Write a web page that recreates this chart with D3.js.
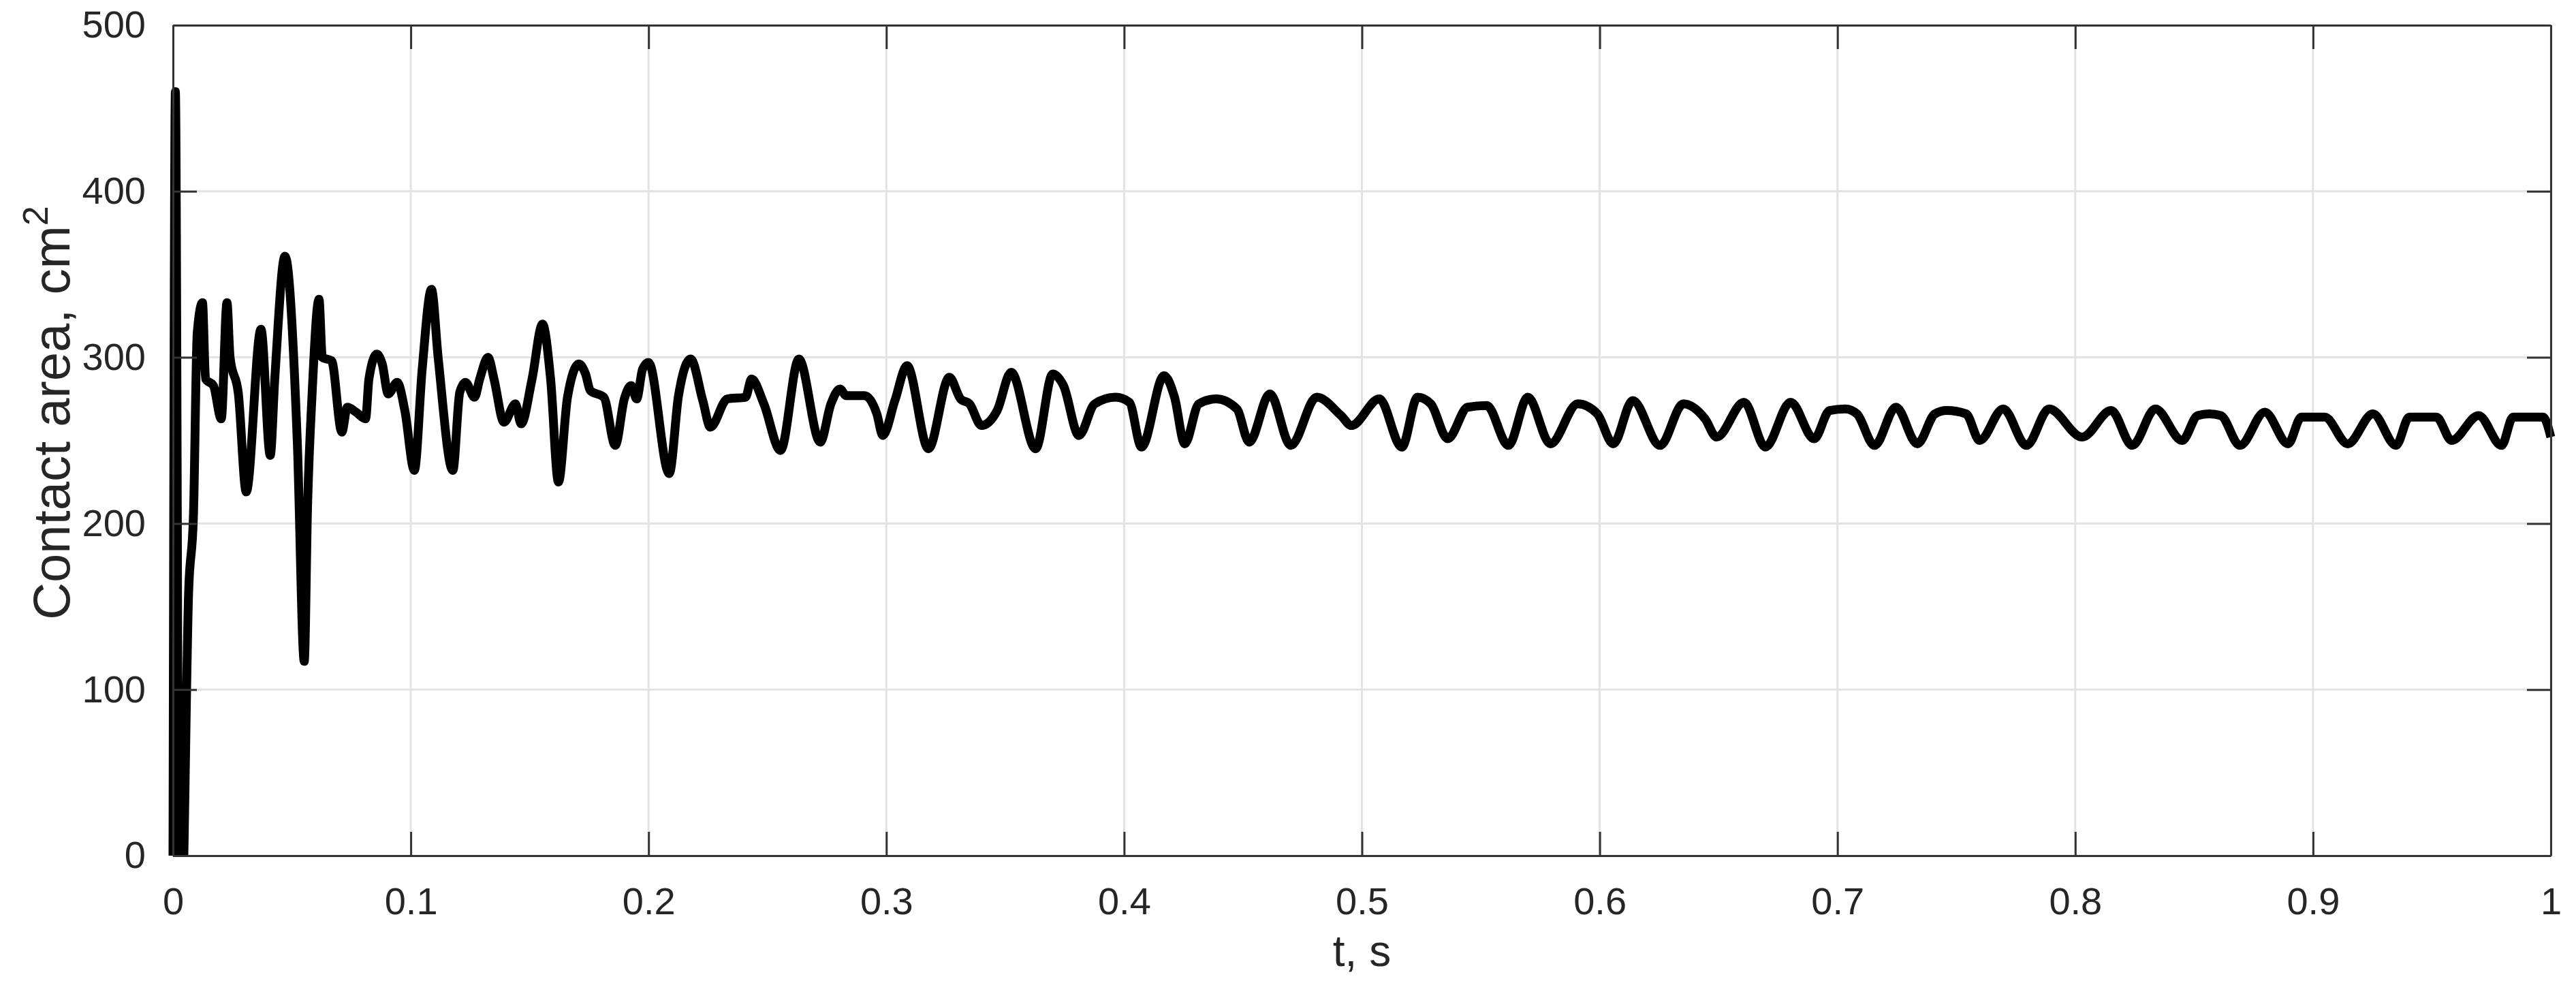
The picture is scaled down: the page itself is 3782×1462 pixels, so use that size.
<html>

<head>
    <script src="https://d3js.org/d3.v7.min.js"></script>
    <style>
        body { margin: 0; background: #fff; }
        text { font-family: "Liberation Sans", Arial, sans-serif; fill: #262626; }
    </style>
</head>

<body>
    <div id="chart">
        <svg width="3782" height="1462"></svg>
    </div>
    <script>
        // time, s
        var timeS = [
            0.0000, 0.0010, 0.0026, 0.0036, 0.0066, 0.0086, 0.0102, 0.0124, 0.0137, 0.0170,
            0.0203, 0.0227, 0.0240, 0.0275, 0.0308, 0.0370, 0.0409, 0.0428, 0.0471, 0.0523,
            0.0552, 0.0566, 0.0585, 0.0614, 0.0628, 0.0667, 0.0710, 0.0733, 0.0770, 0.0810,
            0.0824, 0.0857, 0.0880, 0.0905, 0.0943, 0.0975, 0.1015, 0.1048, 0.1087, 0.1115,
            0.1177, 0.1206, 0.1230, 0.1268, 0.1290, 0.1325, 0.1350, 0.1392, 0.1440, 0.1464,
            0.1510, 0.1554, 0.1588, 0.1621, 0.1659, 0.1707, 0.1735, 0.1755, 0.1812, 0.1860,
            0.1898, 0.1927, 0.1950, 0.1975, 0.2000, 0.2087, 0.2126, 0.2177, 0.2228, 0.2260,
            0.2331, 0.2408, 0.2433, 0.2485, 0.2555, 0.2632, 0.2722, 0.2767, 0.2805, 0.2831,
            0.2908, 0.2960, 0.2985, 0.3036, 0.3087, 0.3177, 0.3265, 0.3312, 0.3350, 0.3400,
            0.3466, 0.3525, 0.3628, 0.3700, 0.3745, 0.3810, 0.3876, 0.3964, 0.4022, 0.4073,
            0.4168, 0.4212, 0.4255, 0.4314, 0.4387, 0.4474, 0.4526, 0.4613, 0.4701, 0.4810,
            0.4912, 0.4956, 0.5073, 0.5168, 0.5234, 0.5290, 0.5361, 0.5445, 0.5525, 0.5616,
            0.5698, 0.5793, 0.5908, 0.5990, 0.6057, 0.6139, 0.6254, 0.6352, 0.6443, 0.6492,
            0.6607, 0.6697, 0.6803, 0.6902, 0.6967, 0.7033, 0.7082, 0.7156, 0.7246, 0.7336,
            0.7410, 0.7459, 0.7541, 0.7598, 0.7697, 0.7795, 0.7890, 0.8029, 0.8151, 0.8240,
            0.8337, 0.8450, 0.8515, 0.8563, 0.8612, 0.8693, 0.8797, 0.8895, 0.8951, 0.9049,
            0.9146, 0.9252, 0.9349, 0.9405, 0.9519, 0.9583, 0.9696, 0.9793, 0.9841, 0.9968,
            1.0000
        ]
        // contact area, cm^2
        var contactArea = [
            0, 460, -40, -40, 160, 205, 315, 333, 287, 283,
            263, 333, 300, 278, 219, 317, 241, 287, 361, 248,
            117, 211, 278, 335, 300, 298, 255, 270, 267, 263,
            287, 302, 296, 278, 285, 268, 232, 293, 341, 300,
            232, 279, 285, 276, 287, 300, 287, 261, 272, 260,
            287, 320, 287, 225, 276, 296, 290, 280, 276, 247,
            275, 283, 275, 293, 297, 230, 277, 299, 274, 258,
            275, 276, 287, 272, 244, 299, 249, 272, 281, 277,
            277, 266, 253, 274, 295, 245, 288, 275, 272, 259,
            268, 291, 245, 290, 283, 253, 272, 276, 273, 246,
            289, 276, 248, 272, 275, 269, 249, 278, 247, 276,
            265, 259, 275, 246, 276, 272, 251, 270, 271, 247,
            276, 248, 272, 266, 248, 274, 247, 272, 263, 252,
            273, 246, 273, 251, 268, 269, 266, 247, 270, 248,
            266, 268, 266, 250, 269, 247, 269, 252, 268, 247,
            269, 250, 265, 266, 265, 247, 267, 248, 264, 264,
            248, 266, 247, 264, 264, 250, 265, 247, 264, 264,
            252
        ]

        var xTicks = [0, 0.1, 0.2, 0.3, 0.4, 0.5, 0.6, 0.7, 0.8, 0.9, 1]
        var xTickLabels = ["0", "0.1", "0.2", "0.3", "0.4", "0.5", "0.6", "0.7", "0.8", "0.9", "1"]
        var yTicks = [0, 100, 200, 300, 400, 500]
        var yTickLabels = ["0", "100", "200", "300", "400", "500"]

        var svg = d3.select("#chart svg")

        // plot box (window.top is taken, so no plain "top")
        var plotLeft = 254, plotRight = 3745, plotTop = 37, plotBottom = 1256
        var tickLen = 35

        var xScale = d3.scaleLinear()
            .domain([0, 1])
            .range([plotLeft, plotRight])
        var yScale = d3.scaleLinear()
            .domain([0, 500])
            .range([plotBottom, plotTop])

        // grid
        svg.append("g")
            .selectAll("line")
            .data(xTicks)
            .enter()
            .append("line")
            .attr("x1", function(d) { return xScale(d) })
            .attr("x2", function(d) { return xScale(d) })
            .attr("y1", plotTop)
            .attr("y2", plotBottom)
            .style("stroke", "#e3e3e3")
            .style("stroke-width", 3)
        svg.append("g")
            .selectAll("line")
            .data(yTicks)
            .enter()
            .append("line")
            .attr("x1", plotLeft)
            .attr("x2", plotRight)
            .attr("y1", function(d) { return yScale(d) })
            .attr("y2", function(d) { return yScale(d) })
            .style("stroke", "#e3e3e3")
            .style("stroke-width", 3)

        // clip below the x axis like matlab does
        svg.append("clipPath")
            .attr("id", "clip")
            .append("rect")
            .attr("x", 0)
            .attr("y", 0)
            .attr("width", 3782)
            .attr("height", plotBottom + 1)

        var line = d3.line()
            .x(function(d) { return xScale(d[0]) })
            .y(function(d) { return yScale(d[1]) })
            .curve(d3.curveMonotoneX)

        svg.append("path")
            .datum(d3.zip(timeS, contactArea))
            .attr("clip-path", "url(#clip)")
            .attr("d", line)
            .style("fill", "none")
            .style("stroke", "#000")
            .style("stroke-width", 13)
            .style("stroke-linejoin", "round")

        // axes (box on, ticks inside)
        var xAxis = d3.axisBottom(xScale)
            .tickValues(xTicks)
            .tickFormat(function(d, i) { return xTickLabels[i] })
            .tickSizeInner(-tickLen)
            .tickSizeOuter(0)
            .tickPadding(46)
        var yAxis = d3.axisLeft(yScale)
            .tickValues(yTicks)
            .tickFormat(function(d, i) { return yTickLabels[i] })
            .tickSizeInner(-tickLen)
            .tickSizeOuter(0)
            .tickPadding(40)

        svg.append("g")
            .attr("class", "axis")
            .attr("transform", "translate(0," + plotBottom + ")")
            .call(xAxis)
        svg.append("g")
            .attr("class", "axis")
            .attr("transform", "translate(" + plotLeft + ",0)")
            .call(yAxis)
        svg.append("g")
            .attr("class", "axis")
            .attr("transform", "translate(0," + plotTop + ")")
            .call(d3.axisTop(xScale).tickValues(xTicks).tickFormat("").tickSizeInner(-tickLen).tickSizeOuter(0))
        svg.append("g")
            .attr("class", "axis")
            .attr("transform", "translate(" + plotRight + ",0)")
            .call(d3.axisRight(yScale).tickValues(yTicks).tickFormat("").tickSizeInner(-tickLen).tickSizeOuter(0))

        svg.selectAll(".axis path, .axis line")
            .style("stroke", "#333")
            .style("stroke-width", 3)
        svg.selectAll(".axis text")
            .style("font-family", "'Liberation Sans', Arial, sans-serif")
            .style("font-size", "56px")
            .style("fill", "#262626")

        // labels
        svg.append("text")
            .attr("x", (plotLeft + plotRight) / 2)
            .attr("y", 1418)
            .attr("text-anchor", "middle")
            .style("font-size", "64px")
            .text("t, s")

        var yLabel = svg.append("text")
            .attr("transform", "translate(102,606) rotate(-90)")
            .attr("text-anchor", "middle")
            .style("font-size", "76px")
        yLabel.append("tspan").text("Contact area, cm")
        yLabel.append("tspan")
            .attr("dy", -32)
            .style("font-size", "52px")
            .text("2")
    </script>

</body>

</html>
